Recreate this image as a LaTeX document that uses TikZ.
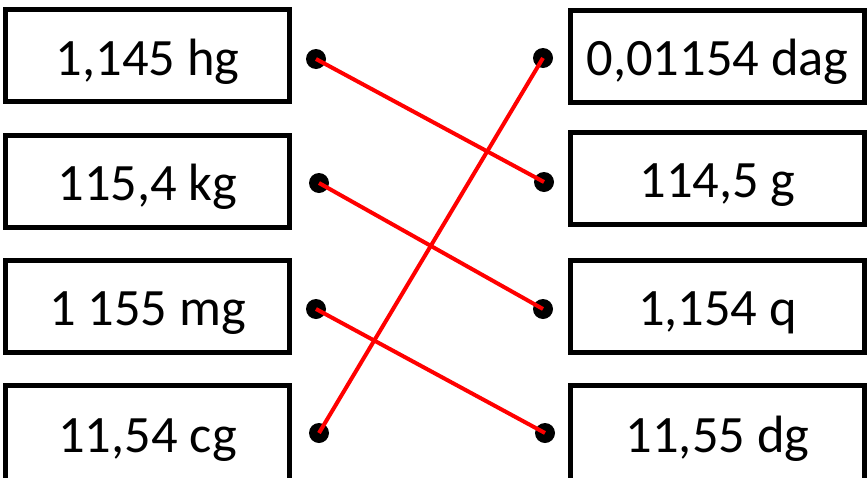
\documentclass[tikz,border=0pt]{standalone}
\usepackage{fontspec}
\setmainfont{Carlito}
\begin{document}
\begin{tikzpicture}[x=1pt,y=-1pt,
  valbox/.style={draw=black,line width=5pt,fill=white,minimum height=92pt,inner sep=0pt,text height=39pt,text depth=0pt,font=\fontsize{52.5}{62}\selectfont},
  lbox/.style={valbox,minimum width=284pt},
  rbox/.style={valbox,minimum width=294pt},
  lastbox/.style={minimum height=100pt,text height=34pt},
  dot/.style={circle,fill=black,minimum size=20pt,inner sep=0pt},
  link/.style={red,line width=4pt}]
\useasboundingbox (0,0) rectangle (868,477);
\clip (0,0) rectangle (868,477);
\node[lbox] (l1) at (147.5,55.5) {1,145 hg};
\node[lbox] (l2) at (147.5,181) {115,4 kg};
\node[lbox] (l3) at (147.5,306) {1 155 mg};
\node[lbox,lastbox] (l4) at (147.5,435) {11,54 cg};
\node[rbox] (r1) at (717.5,56) {0,01154 dag};
\node[rbox] (r2) at (717.5,178) {114,5 g};
\node[rbox] (r3) at (717.5,306) {1,154 q};
\node[rbox,lastbox] (r4) at (717.5,435) {11,55 dg};
\node[dot] (a1) at (316,59) {};
\node[dot] (a2) at (319,183) {};
\node[dot] (a3) at (316,309) {};
\node[dot] (a4) at (319,433) {};
\node[dot] (b1) at (543,58) {};
\node[dot] (b2) at (544,182) {};
\node[dot] (b3) at (543,309) {};
\node[dot] (b4) at (545,433) {};
\draw[link] (a1.center) -- (b2.center);
\draw[link] (a2.center) -- (b3.center);
\draw[link] (a3.center) -- (b4.center);
\draw[link] (a4.center) -- (b1.center);
\end{tikzpicture}
\end{document}
